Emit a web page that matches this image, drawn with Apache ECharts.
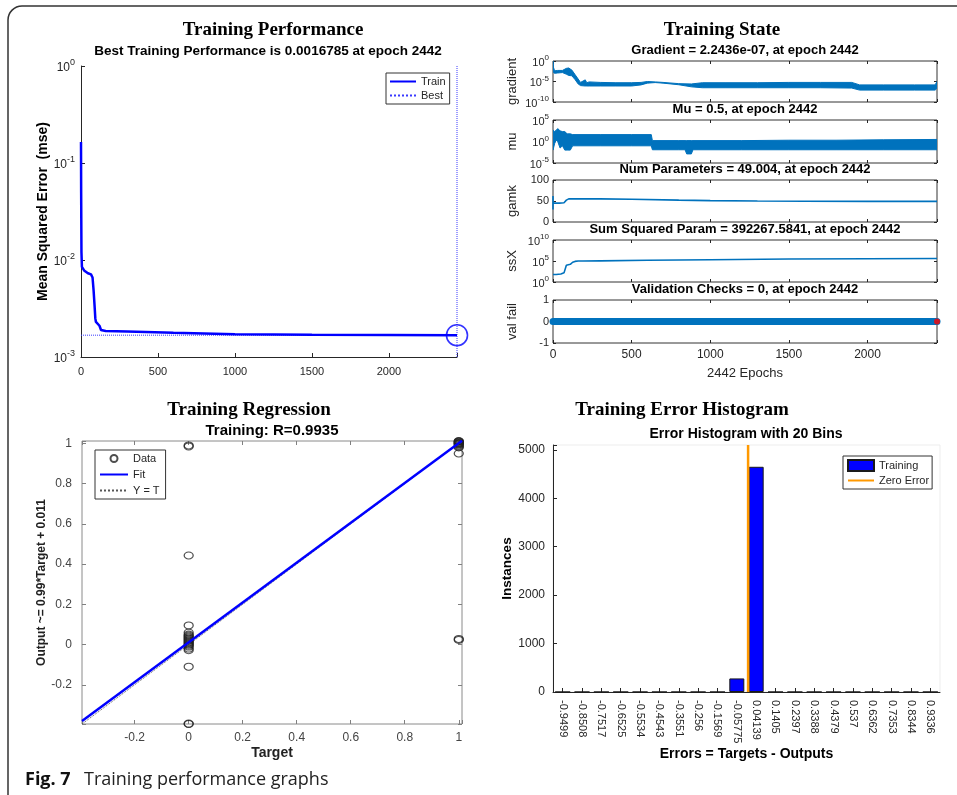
<!DOCTYPE html>
<html>
<head>
<meta charset="utf-8">
<script src="https://cdn.jsdelivr.net/npm/echarts@6/dist/echarts.min.js"></script>
<style>
  html, body { margin: 0; padding: 0; background: #fff; }
  #chart { width: 957px; height: 795px; }
</style>
</head>
<body>
<div id="chart"></div>
<script>
const SANS = '"Liberation Sans", Arial, sans-serif';
const SERIF = '"Liberation Serif", "Times New Roman", serif';
const INK = '#262626';
const MBLUE = '#0072BD';

// ---- Training Performance (mse per epoch) ----
const perfEpochs = [0, 1, 3, 6, 20, 45, 65, 75, 82, 88, 93, 97, 105, 120, 130, 140, 160, 300, 600, 1000, 1500, 2000, 2442];
const perfMse = [0.165, 0.05, 0.012, 0.0085, 0.0078, 0.0073, 0.0071, 0.0066, 0.0048, 0.0034, 0.0025, 0.0023, 0.0022, 0.0021, 0.0019, 0.00186, 0.00185, 0.00183, 0.00178, 0.00172, 0.0017, 0.00169, 0.0016785];
const bestEpoch = 2442;
const bestMse = 0.0016785;

// ---- Training State (envelopes of the noisy traces) ----
const gradEpochs = [0, 3, 10, 30, 60, 85, 100, 120, 140, 160, 175, 205, 215, 230, 300, 400, 500, 560, 600, 650, 700, 800, 880, 950, 1100, 1300, 1500, 1700, 1900, 1950, 2100, 2300, 2430, 2442];
const gradHigh = [1, 0.03, 0.004, 0.005, 0.005, 0.016, 0.02, 0.006, 5e-4, 4e-5, 6e-6, 2.5e-5, 5e-6, 8e-6, 6e-6, 5e-6, 5e-6, 6e-6, 1e-5, 8e-6, 6e-6, 3e-6, 2.5e-6, 5e-6, 5e-6, 5e-6, 6e-6, 6e-6, 6e-6, 1.5e-6, 1.5e-6, 1.5e-6, 1.5e-6, 1e-5];
const gradLow = [1, 1.5e-3, 1e-3, 1.2e-3, 1.5e-3, 6e-4, 3e-4, 2.5e-4, 3e-5, 2.5e-6, 1e-6, 8e-7, 8e-7, 8e-7, 8e-7, 8e-7, 8e-7, 1.5e-6, 4e-6, 5.5e-6, 4e-6, 1.6e-6, 5e-7, 3e-7, 3e-7, 3e-7, 3e-7, 3e-7, 2.5e-7, 8e-8, 8e-8, 8e-8, 8e-8, 2.2e-7];

const muEpochs = [0, 10, 20, 30, 45, 60, 75, 90, 110, 125, 300, 500, 625, 632, 800, 840, 850, 880, 890, 1200, 1500, 1800, 2100, 2442];
const muHigh = [500, 200, 400, 1000, 300, 200, 200, 60, 60, 40, 40, 40, 40, 1.6, 1.6, 1.6, 1.6, 1.6, 1.6, 1.6, 2, 2, 2.5, 3];
const muLow = [0.01, 0.3, 2, 1, 0.03, 0.1, 0.01, 0.01, 0.01, 0.1, 0.1, 0.1, 0.1, 0.012, 0.012, 0.012, 0.0013, 0.0013, 0.012, 0.012, 0.012, 0.012, 0.012, 0.012];

const gamkEpochs = [0, 0, 1, 3, 10, 40, 70, 85, 100, 150, 300, 500, 800, 1000, 1300, 1600, 2000, 2442];
const gamkVals = [30, 62, 45, 44, 44, 45, 46, 52, 55, 55, 55, 54, 52, 51, 50, 49.5, 49, 49.004];

const ssxEpochs = [0, 20, 50, 70, 85, 95, 110, 125, 140, 160, 190, 300, 600, 1000, 1500, 2000, 2442];
const ssxVals = [60, 60, 80, 150, 10000, 12000, 16000, 50000, 80000, 100000, 100000, 110000, 150000, 200000, 300000, 330000, 392268];

const valEpochs = [0, 2442];
const valChecks = [0, 0];

// ---- Training Regression ----
const regTargets = [0, 0, 0, 0, 0, 0, 0, 0, 0, 0, 0, 0, 0, 0, 0, 0, 0, 0, 0, 0, 0, 0, 0,
                    1, 1, 1, 1, 1, 1, 1, 1, 1, 1, 1, 1, 1, 1];
const regOutputs = [0.99, 0.985, 0.443, 0.095, 0.06, 0.05, 0.045, 0.04, 0.035, 0.03, 0.025, 0.02, 0.015, 0.01, 0.005, 0, -0.005, -0.01, -0.02, -0.028, -0.11, -0.393, -0.395,
                    1.012, 1.01, 1.008, 1.005, 1.002, 1.0, 0.998, 0.995, 0.99, 0.985, 0.98, 0.95, 0.028, 0.023];
const regRange = [-0.395, 1.012];
const fitX = [-0.395, 1.012];
const fitY = [-0.380, 1.013];

// ---- Error Histogram ----
const histBins = ['-0.9499', '-0.8508', '-0.7517', '-0.6525', '-0.5534', '-0.4543', '-0.3551', '-0.256', '-0.1569', '-0.05775',
                  '0.04139', '0.1405', '0.2397', '0.3388', '0.4379', '0.537', '0.6362', '0.7353', '0.8344', '0.9336'];
const histCounts = [0, 0, 0, 0, 0, 0, 0, 0, 0, 280, 4650, 0, 0, 0, 0, 0, 0, 0, 0, 0];
const histEdges = [-0.9995, 0.9832];
const zeroError = 0;

const chart = echarts.init(document.getElementById('chart'));

const grids = [], xAxes = [], yAxes = [], series = [], graphics = [];
const addGrid = g => { grids.push(g); return grids.length - 1; };
const addX = a => { xAxes.push(a); return xAxes.length - 1; };
const addY = a => { yAxes.push(a); return yAxes.length - 1; };
const zip = (a, b) => a.map((v, i) => [v, b[i]]);

const tick = (len, color) => ({ show: true, inside: true, length: len, lineStyle: { color: color, width: 1 } });
const noLine = { show: false, onZero: false };
const axLine = color => ({ show: true, onZero: false, lineStyle: { color: color } });
const noSplit = { show: false };
const hideSymbol = { opacity: 0 };

function supLabel(v) {
  return '{b|10}{s|' + Math.round(Math.log10(v)) + '}';
}
function supRich(size) {
  return {
    b: { fontFamily: SANS, fontSize: size, color: INK, verticalAlign: 'bottom' },
    s: { fontFamily: SANS, fontSize: Math.round(size * 0.72), color: INK, verticalAlign: 'bottom', padding: [0, 0, Math.round(size * 0.55), 0] }
  };
}
const multipleOf = (v, step) => Math.abs(v / step - Math.round(v / step)) < 1e-6;

function text(x, y, str, font, align) {
  graphics.push({
    type: 'text', x: x, y: y, silent: true,
    style: { text: str, font: font, fill: '#000', align: align || 'center', textAlign: align || 'center', verticalAlign: 'middle', textVerticalAlign: 'middle' }
  });
}

// polygon between an upper and lower envelope, drawn through the axis scales
function band(xi, yi, xs, hi, lo) {
  series.push({
    type: 'custom', xAxisIndex: xi, yAxisIndex: yi, silent: true, clip: true,
    data: [[xs[0], hi[0]]],
    renderItem: function (params, api) {
      const pts = [];
      for (let i = 0; i < xs.length; i++) pts.push(api.coord([xs[i], hi[i]]));
      for (let i = xs.length - 1; i >= 0; i--) pts.push(api.coord([xs[i], lo[i]]));
      return { type: 'polygon', shape: { points: pts }, style: { fill: MBLUE, stroke: MBLUE, lineWidth: 1 } };
    }
  });
}

// ================= Training Performance =================
const g0 = addGrid({ left: 81, top: 66, width: 376, height: 291 });
const x0 = addX({
  type: 'value', gridIndex: g0, min: 0, max: 2442, interval: 500,
  axisLine: axLine(INK), axisTick: tick(4, INK), splitLine: noSplit,
  axisLabel: { fontFamily: SANS, fontSize: 11, color: INK, margin: 9, formatter: v => (v % 500 === 0 ? String(v) : '') }
});
const y0 = addY({
  type: 'log', gridIndex: g0, logBase: 10, min: 0.001, max: 1,
  axisLine: axLine(INK), axisTick: tick(4, INK), splitLine: noSplit,
  axisLabel: { formatter: supLabel, rich: supRich(12), margin: 6 },
  name: 'Mean Squared Error  (mse)', nameLocation: 'middle', nameGap: 31,
  nameTextStyle: { fontFamily: SANS, fontWeight: 'bold', fontSize: 14, color: '#000' }
});
series.push({
  name: 'Train', type: 'line', xAxisIndex: x0, yAxisIndex: y0, data: zip(perfEpochs, perfMse),
  symbol: 'none', lineStyle: { color: '#0000ff', width: 2.5 }, itemStyle: { color: '#0000ff' }, z: 5
});
series.push({
  name: 'Best', type: 'line', xAxisIndex: x0, yAxisIndex: y0, data: [[0, bestMse], [bestEpoch, bestMse]],
  symbol: 'none', lineStyle: { color: '#3a3aff', width: 1, type: 'dotted' }, itemStyle: { color: '#3a3aff' }, z: 4
});
series.push({
  type: 'line', xAxisIndex: x0, yAxisIndex: y0, data: [[bestEpoch, 0.001], [bestEpoch, 1]],
  symbol: 'none', lineStyle: { color: '#3a3aff', width: 1, type: 'dotted' }, z: 4
});
series.push({
  type: 'scatter', xAxisIndex: x0, yAxisIndex: y0, data: [[bestEpoch, bestMse]], clip: false,
  symbol: 'circle', symbolSize: 21, itemStyle: { color: 'rgba(0,0,0,0)', borderColor: '#0000ff', borderWidth: 1.6 }, z: 6
});
text(273, 30, 'Training Performance', 'bold 19px ' + SERIF);
text(268, 51, 'Best Training Performance is 0.0016785 at epoch 2442', 'bold 13.5px ' + SANS);

// ================= Training State =================
const stTops = [61, 120, 180, 240, 300];
const stHeights = [41, 43, 42, 42, 43];
const stTitles = ['Gradient = 2.2436e-07, at epoch 2442', 'Mu = 0.5, at epoch 2442', 'Num Parameters = 49.004, at epoch 2442',
                  'Sum Squared Param = 392267.5841, at epoch 2442', 'Validation Checks = 0, at epoch 2442'];
const stY = [
  { type: 'log', logBase: 1e5, min: 1e-10, max: 1, name: 'gradient' },
  { type: 'log', logBase: 1e5, min: 1e-5, max: 1e5, name: 'mu' },
  { type: 'value', min: 0, max: 100, interval: 50, name: 'gamk' },
  { type: 'log', logBase: 1e5, min: 1, max: 1e10, name: 'ssX' },
  { type: 'value', min: -1, max: 1, interval: 1, name: 'val fail' }
];
const stAxes = [];
for (let k = 0; k < 5; k++) {
  const last = k === 4;
  const g = addGrid({ left: 553, top: stTops[k], width: 384, height: stHeights[k], show: true, borderColor: '#333', borderWidth: 1 });
  const xb = addX({
    type: 'value', gridIndex: g, min: 0, max: 2442, interval: 500, position: 'bottom',
    axisLine: noLine, axisTick: tick(3, INK), splitLine: noSplit,
    axisLabel: { show: last, fontFamily: SANS, fontSize: 12, color: INK, margin: 6, formatter: v => (v % 500 === 0 ? String(v) : '') },
    name: last ? '2442 Epochs' : '', nameLocation: 'middle', nameGap: 24,
    nameTextStyle: { fontFamily: SANS, fontSize: 13, color: INK }
  });
  addX({
    type: 'value', gridIndex: g, min: 0, max: 2442, interval: 500, position: 'top',
    axisLine: noLine, axisTick: tick(3, INK), splitLine: noSplit, axisLabel: { show: false }
  });
  const c = stY[k];
  const yBase = { type: c.type, gridIndex: g, min: c.min, max: c.max, splitLine: noSplit, axisLine: noLine };
  if (c.logBase) yBase.logBase = c.logBase;
  if (c.interval) yBase.interval = c.interval;
  const yl = addY(Object.assign({}, yBase, {
    position: 'left', axisTick: tick(3, INK),
    axisLabel: c.type === 'log'
      ? { formatter: supLabel, rich: supRich(11), margin: 4 }
      : { fontFamily: SANS, fontSize: 11, color: INK, margin: 4 },
    name: c.name, nameLocation: 'middle', nameGap: 34,
    nameTextStyle: { fontFamily: SANS, fontSize: 13, color: INK }
  }));
  addY(Object.assign({}, yBase, { position: 'right', axisTick: tick(3, INK), axisLabel: { show: false } }));
  stAxes.push([xb, yl]);
  text(745, stTops[k] - 11, stTitles[k], 'bold 13px ' + SANS);
}
band(stAxes[0][0], stAxes[0][1], gradEpochs, gradHigh, gradLow);
band(stAxes[1][0], stAxes[1][1], muEpochs, muHigh, muLow);
series.push({
  type: 'line', xAxisIndex: stAxes[2][0], yAxisIndex: stAxes[2][1], data: zip(gamkEpochs, gamkVals),
  symbol: 'none', lineStyle: { color: MBLUE, width: 1.6 }
});
series.push({
  type: 'line', xAxisIndex: stAxes[3][0], yAxisIndex: stAxes[3][1], data: zip(ssxEpochs, ssxVals),
  symbol: 'none', lineStyle: { color: MBLUE, width: 1.6 }
});
series.push({
  type: 'line', xAxisIndex: stAxes[4][0], yAxisIndex: stAxes[4][1], data: zip(valEpochs, valChecks),
  symbol: 'none', lineStyle: { color: MBLUE, width: 7, cap: 'round' }
});
series.push({
  type: 'scatter', xAxisIndex: stAxes[4][0], yAxisIndex: stAxes[4][1], clip: false,
  data: [[valEpochs[valEpochs.length - 1], valChecks[valChecks.length - 1]]],
  symbolSize: 6, itemStyle: { color: '#ff0000' }, z: 5
});
text(722, 30, 'Training State', 'bold 19px ' + SERIF);

// ================= Training Regression =================
const REG_GRAY = '#808080';
const g6 = addGrid({ left: 82, top: 441, width: 380, height: 283, show: true, borderColor: '#8a8a8a', borderWidth: 1 });
const regLabel = v => (multipleOf(v, 0.2) ? String(Number(v.toFixed(1))) : '');
const regAxis = {
  type: 'value', gridIndex: g6, min: regRange[0], max: regRange[1], splitNumber: 7,
  axisLine: noLine, axisTick: tick(4, REG_GRAY), splitLine: noSplit
};
const x6 = addX(Object.assign({}, regAxis, {
  position: 'bottom',
  axisLabel: { fontFamily: SANS, fontSize: 12, color: '#444', margin: 8, formatter: regLabel },
  name: 'Target', nameLocation: 'middle', nameGap: 22,
  nameTextStyle: { fontFamily: SANS, fontWeight: 'bold', fontSize: 14, color: '#222' }
}));
addX(Object.assign({}, regAxis, { position: 'top', axisLabel: { show: false } }));
const y6 = addY(Object.assign({}, regAxis, {
  position: 'left',
  axisLabel: { fontFamily: SANS, fontSize: 12, color: '#444', margin: 10, formatter: regLabel },
  name: 'Output ~= 0.99*Target + 0.011', nameLocation: 'middle', nameGap: 34,
  nameTextStyle: { fontFamily: SANS, fontWeight: 'bold', fontSize: 12, color: '#222' }
}));
addY(Object.assign({}, regAxis, { position: 'right', axisLabel: { show: false } }));
series.push({
  name: 'Data', type: 'scatter', xAxisIndex: x6, yAxisIndex: y6, data: zip(regTargets, regOutputs), clip: false,
  symbol: 'circle', symbolSize: [9, 7], itemStyle: { color: 'rgba(0,0,0,0)', borderColor: '#222', borderWidth: 1.1 }, z: 3
});
series.push({
  name: 'Fit', type: 'line', xAxisIndex: x6, yAxisIndex: y6, data: zip(fitX, fitY),
  symbol: 'none', lineStyle: { color: '#0000ff', width: 2.5 }, itemStyle: { color: '#0000ff' }, z: 4
});
series.push({
  name: 'Y = T', type: 'line', xAxisIndex: x6, yAxisIndex: y6, data: [[regRange[0], regRange[0]], [regRange[1], regRange[1]]],
  symbol: 'none', lineStyle: { color: '#555', width: 1, type: 'dotted' }, itemStyle: { color: '#555' }, z: 2
});
text(249, 410, 'Training Regression', 'bold 19px ' + SERIF);
text(272, 431, 'Training: R=0.9935', 'bold 15px ' + SANS);

// ================= Training Error Histogram =================
const g7 = addGrid({ left: 553, top: 445, width: 387, height: 247, show: true, borderColor: '#ededed', borderWidth: 1 });
const x7 = addX({
  type: 'category', gridIndex: g7, data: histBins, boundaryGap: true,
  axisLine: axLine(INK), axisTick: Object.assign(tick(4, INK), { alignWithLabel: true }),
  axisLabel: { fontFamily: SANS, fontSize: 11, color: INK, rotate: -90, margin: 8, interval: 0 },
  name: 'Errors = Targets - Outputs', nameLocation: 'middle', nameGap: 53,
  nameTextStyle: { fontFamily: SANS, fontWeight: 'bold', fontSize: 14, color: '#000' }
});
const x7v = addX({ type: 'value', gridIndex: g7, min: histEdges[0], max: histEdges[1], show: false });
const y7 = addY({
  type: 'value', gridIndex: g7, min: 0, max: 5100, interval: 1000,
  axisLine: axLine(INK), axisTick: tick(4, INK), splitLine: noSplit,
  axisLabel: { fontFamily: SANS, fontSize: 12, color: INK, margin: 8, formatter: v => (v % 1000 === 0 ? String(v) : '') },
  name: 'Instances', nameLocation: 'middle', nameGap: 37,
  nameTextStyle: { fontFamily: SANS, fontWeight: 'bold', fontSize: 13.5, color: '#000' }
});
series.push({
  name: 'Training', type: 'bar', xAxisIndex: x7, yAxisIndex: y7, data: histCounts, barWidth: 15,
  itemStyle: { color: '#0000ff', borderColor: '#1a1a1a', borderWidth: 1 }
});
series.push({
  name: 'Zero Error', type: 'line', xAxisIndex: x7v, yAxisIndex: y7, data: [[zeroError, 0], [zeroError, 5100]],
  symbol: 'none', lineStyle: { color: '#ff9900', width: 2.5 }, itemStyle: { color: '#ff9900' }, z: 5
});
text(682, 410, 'Training Error Histogram', 'bold 19px ' + SERIF);
text(746, 434, 'Error Histogram with 20 Bins', 'bold 14px ' + SANS);

// ================= frame and caption =================
graphics.push({
  type: 'rect', silent: true, z: -1,
  shape: { x: 8, y: 6, width: 1100, height: 900, r: 14 },
  style: { fill: 'none', stroke: '#333', lineWidth: 1.5 }
});
graphics.push({ type: 'text', x: 25, y: 780, silent: true,
  style: { text: 'Fig. 7', font: 'bold 18px "Open Sans", "Noto Sans", sans-serif', fill: '#111', verticalAlign: 'middle', textVerticalAlign: 'middle' } });
graphics.push({ type: 'text', x: 84, y: 780, silent: true,
  style: { text: 'Training performance graphs', font: '18px "Open Sans", "Noto Sans", sans-serif', fill: '#222', verticalAlign: 'middle', textVerticalAlign: 'middle' } });

const legendBase = {
  orient: 'vertical', backgroundColor: '#fff', borderColor: '#333', borderWidth: 1, borderRadius: 0,
  selectedMode: false, itemGap: 3, textStyle: { fontFamily: SANS, fontSize: 11, color: INK }
};

chart.setOption({
  animation: false,
  backgroundColor: '#fff',
  grid: grids,
  xAxis: xAxes,
  yAxis: yAxes,
  series: series,
  legend: [
    Object.assign({}, legendBase, {
      data: [{ name: 'Train', itemStyle: hideSymbol }, { name: 'Best', itemStyle: hideSymbol }],
      left: 386, top: 73, padding: [3, 4, 3, 3], itemWidth: 26, itemHeight: 11
    }),
    Object.assign({}, legendBase, {
      data: ['Data', { name: 'Fit', itemStyle: hideSymbol }, { name: 'Y = T', itemStyle: hideSymbol }],
      left: 95, top: 450, padding: [3, 6, 3, 4], itemWidth: 28, itemHeight: 7, itemGap: 5
    }),
    Object.assign({}, legendBase, {
      data: [{ name: 'Training', icon: 'rect' }, { name: 'Zero Error', itemStyle: hideSymbol }],
      left: 843, top: 456, padding: [3, 3, 3, 4], itemWidth: 26, itemHeight: 11
    })
  ],
  graphic: graphics
});
</script>
</body>
</html>
